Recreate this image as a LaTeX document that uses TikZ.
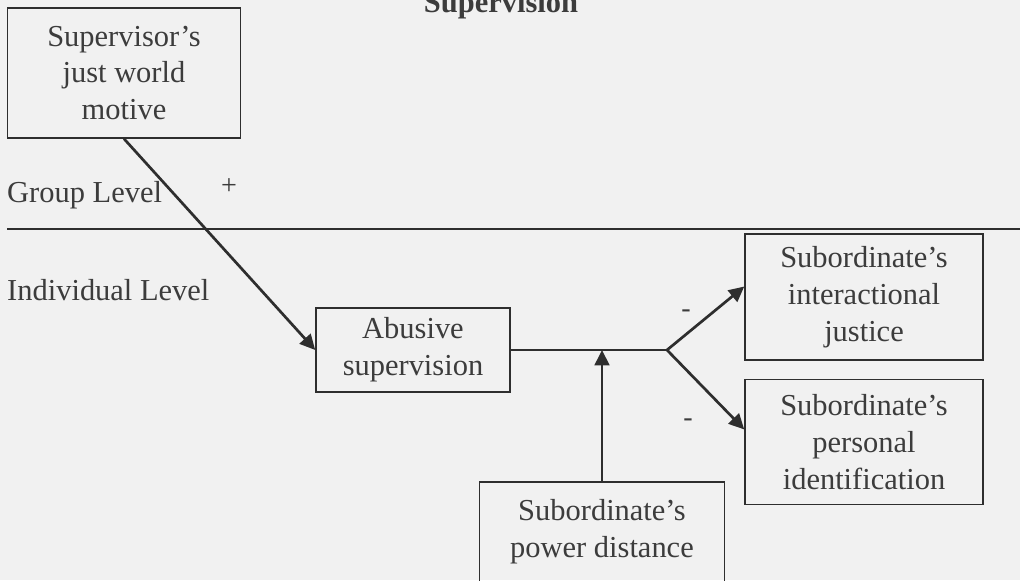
\documentclass[tikz,border=0pt]{standalone}
\usepackage{fontspec}
\setmainfont{Liberation Serif}
\usetikzlibrary{arrows.meta}

\definecolor{paper}{HTML}{F1F1F1}
\definecolor{ink}{HTML}{3C3C3C}
\definecolor{pen}{HTML}{2E2E2E}

\tikzset{
    varbox/.style={draw=pen, line width=1.3pt, text=ink, align=center,
        inner sep=0pt, font=\fontsize{26}{31.5}\selectfont},
    lvl/.style={text=ink, anchor=west, inner sep=0pt, font=\fontsize{26}{31.5}\selectfont},
    sgn/.style={text=ink, inner sep=0pt, font=\fontsize{24}{28}\selectfont},
    path/.style={draw=pen, line width=2.3pt},
    arr/.style={path, -{Triangle[length=4.6mm,width=4.4mm]}}
}

\begin{document}
\begin{tikzpicture}[x=0.03cm,y=-0.03cm]
    \fill [paper] (0,0) rectangle (1020,580);
    \useasboundingbox (0,0) rectangle (1020,580);

    % title, cut at the top
    \node (title) [anchor=base, text=ink, inner sep=0pt,
        font=\fontsize{26}{31.5}\selectfont\bfseries] at (501,12) {Supervision};

    % levels
    \node (group) [lvl] at (7,195) {Group Level};
    \node (indiv) [lvl] at (7,290) {Individual Level};
    \coordinate (divl) at (7,229);
    \coordinate (divr) at (1020,229);
    \draw [path] (divl) -- (divr);

    % variables
    \node (jwm) [varbox, minimum width=233*0.03cm, minimum height=130*0.03cm]
        at (124,73) {Supervisor's\\just world\\motive};
    \node (abuse) [varbox, minimum width=194*0.03cm, minimum height=84*0.03cm]
        at (413,350) {Abusive\\supervision};
    \node (inter) [varbox, minimum width=238*0.03cm, minimum height=126*0.03cm]
        at (864,297) {Subordinate's\\interactional\\justice};
    \node (ident) [varbox, minimum width=238*0.03cm, minimum height=125*0.03cm]
        at (864,442) {Subordinate's\\personal\\identification};
    \node (power) [varbox, minimum width=245*0.03cm, minimum height=100*0.03cm]
        at (602,532) {Subordinate's\\power distance};

    % paths
    \coordinate (branch) at (667,350);
    \draw [arr] (jwm.south) -- (abuse.west);
    \draw [path] (abuse.east) -- (branch);
    \draw [arr] (branch) -- (inter.175);
    \draw [arr] (branch) -- (ident.174);
    \draw [arr] (power.north) -- (power.north |- branch);

    % signs
    \node (plus) [sgn] at (229,187) {+};
    \node (minusa) [sgn] at (686,314) {-};
    \node (minusb) [sgn] at (688,423) {-};
\end{tikzpicture}
\end{document}
